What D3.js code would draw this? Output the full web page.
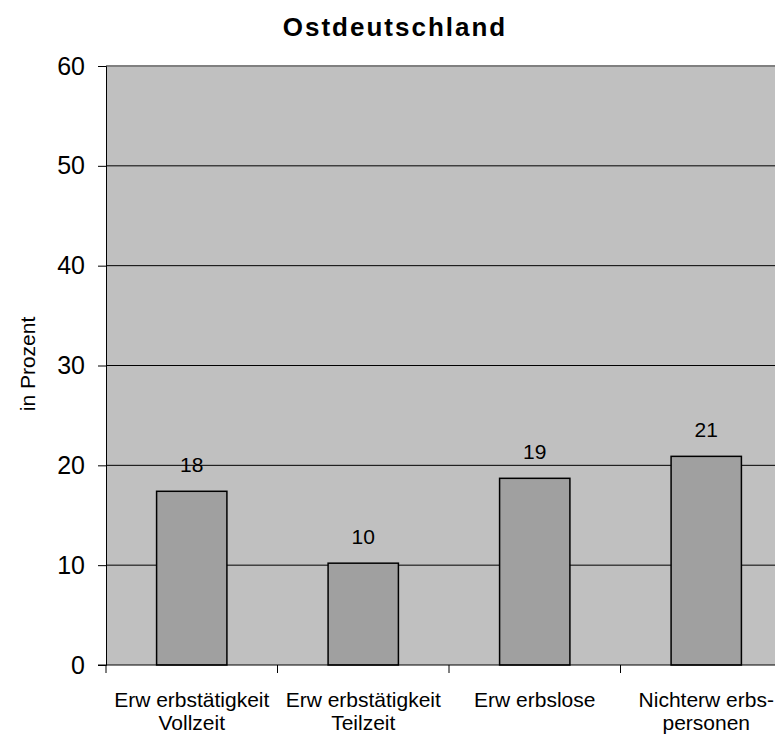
<!DOCTYPE html>
<html><head><meta charset="utf-8">
<script src="https://cdn.jsdelivr.net/npm/d3@7"></script>
<style>body{margin:0;background:#fff}svg{display:block}text{font-family:"Liberation Sans",Arial,sans-serif}</style>
</head><body>
<script>
const categories = [["Erw erbstätigkeit","Vollzeit"],["Erw erbstätigkeit","Teilzeit"],["Erw erbslose"],["Nichterw erbs-","personen"]];
const values = [17.4, 10.2, 18.7, 20.9];
const valueLabels = ["18","10","19","21"];
const yTicks = [0,10,20,30,40,50,60];

(function(){
const W=775,H=737;
const svg=d3.select("body").append("svg").attr("width",W).attr("height",H);
const pL=106, pR=792, pT=66, pB=665;
const x=d3.scaleBand().domain(d3.range(categories.length)).range([pL,pR]).paddingInner(0.59).paddingOuter(0.295);
const y=d3.scaleLinear().domain([0,60]).range([pB,pT]);

svg.append("rect").attr("x",pL).attr("y",pT).attr("width",pR-pL).attr("height",pB-pT).attr("fill","#c0c0c0");
svg.append("line").attr("x1",pL).attr("x2",pR).attr("y1",pT).attr("y2",pT).attr("stroke","#808080").attr("stroke-width",2);
svg.selectAll(".grid").data(yTicks.filter(d=>d>0&&d<60)).join("line")
  .attr("x1",pL).attr("x2",pR).attr("y1",d=>y(d)).attr("y2",d=>y(d)).attr("stroke","#000").attr("stroke-width",1);

svg.selectAll(".bar").data(values).join("rect")
  .attr("x",(d,i)=>x(i)).attr("width",x.bandwidth()).attr("y",d=>y(d)).attr("height",d=>y(0)-y(d))
  .attr("fill","#a0a0a0").attr("stroke","#000").attr("stroke-width",1.5);

svg.selectAll(".vl").data(values).join("text")
  .attr("x",(d,i)=>x(i)+x.bandwidth()/2).attr("y",d=>y(d)-19)
  .attr("text-anchor","middle").attr("font-size",21).attr("fill","#000").text((d,i)=>valueLabels[i]);

const ya=svg.append("g").attr("transform",`translate(${pL},0)`)
  .call(d3.axisLeft(y).tickValues(yTicks).tickSize(8).tickPadding(13));
ya.select(".domain").attr("stroke","#000").attr("stroke-width",1);
ya.selectAll("text").attr("font-size",25).attr("font-family","Liberation Sans, Arial, sans-serif").attr("fill","#000");
ya.selectAll(".tick line").attr("stroke","#000");

const step=x.step();
const xa=svg.append("g");
xa.append("line").attr("x1",pL-8).attr("x2",pR).attr("y1",pB).attr("y2",pB).attr("stroke","#000");
xa.selectAll(".xt").data(d3.range(categories.length+1)).join("line")
  .attr("x1",d=>pL+d*step).attr("x2",d=>pL+d*step).attr("y1",pB).attr("y2",pB+8).attr("stroke","#000");
const xl=xa.selectAll(".xl").data(categories).join("text")
  .attr("text-anchor","middle").attr("font-size",21).attr("fill","#000")
  .attr("x",(d,i)=>x(i)+x.bandwidth()/2).attr("y",707);
xl.selectAll("tspan").data(d=>d).join("tspan")
  .attr("x",function(){return d3.select(this.parentNode).attr("x");})
  .attr("dy",(d,j)=>j===0?0:23).text(d=>d);

svg.append("text").attr("transform","translate(35,364) rotate(-90)").attr("text-anchor","middle")
  .attr("font-size",21).attr("fill","#000").text("in Prozent");
svg.append("text").attr("x",395).attr("y",36).attr("text-anchor","middle")
  .attr("font-size",26).attr("font-weight","bold").attr("letter-spacing",2).attr("fill","#000").text("Ostdeutschland");
})();
</script>
</body></html>
